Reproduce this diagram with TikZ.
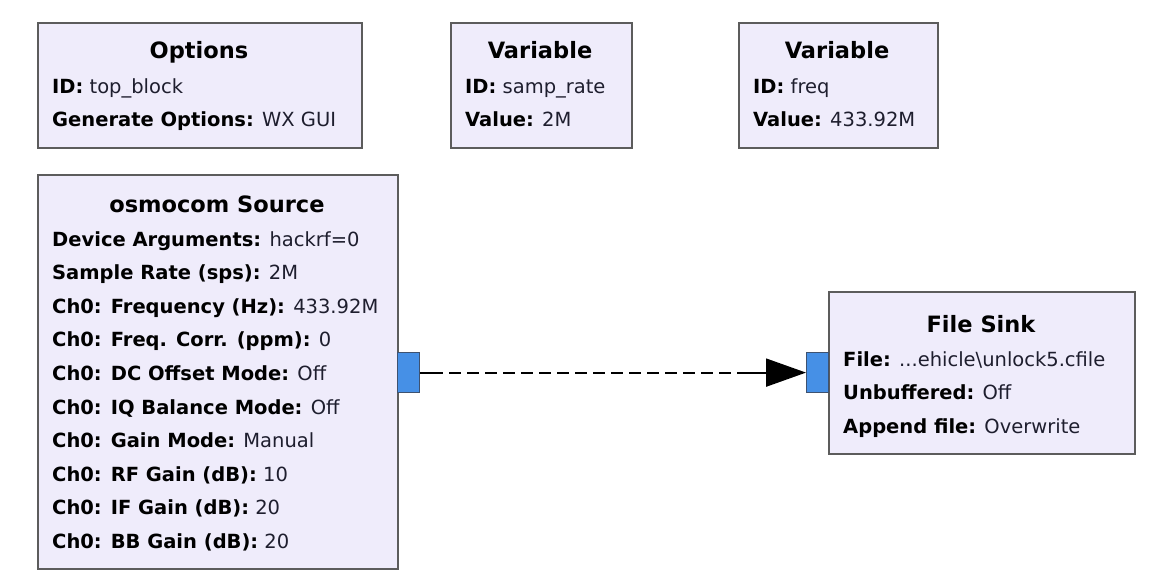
\documentclass[tikz,border=0pt]{standalone}
\usepackage{fontspec}
\setmainfont{DejaVu Sans}
\usetikzlibrary{arrows.meta}
\definecolor{blockfill}{HTML}{EFECFB}
\definecolor{blockedge}{HTML}{5C5C5C}
\definecolor{portfill}{HTML}{4690E6}
\definecolor{portedge}{HTML}{3E5270}
\definecolor{valtext}{HTML}{1E1E2E}

\begin{document}
\begin{tikzpicture}[x=1pt,y=-1pt,
  block/.style n args={2}{draw=blockedge,fill=blockfill,line width=1.6pt,rectangle,anchor=north west,inner sep=0pt,minimum width=#1pt,minimum height=#2pt},
  port/.style={draw=portedge,fill=portfill,line width=1.2pt,rectangle,anchor=north west,inner sep=0pt,minimum width=22pt,minimum height=40pt},
  title/.style={anchor=base,inner sep=0pt,font=\bfseries\fontsize{22.5}{26}\selectfont},
  param/.style={anchor=base west,inner sep=0pt,text=valtext,font=\fontsize{19.5}{24}\selectfont},
  wire/.style={draw=black,line width=2pt}]
  \useasboundingbox (0,0) rectangle (1162,573);
  % blocks
  \node[block={324}{125}] (opts) at (37,22) {};
  \node[block={181}{125}] (samprate) at (450,22) {};
  \node[block={199}{125}] (freq) at (738,22) {};
  \node[block={360}{394}] (src) at (37,174) {};
  \node[block={306}{162}] (sink) at (828,291) {};
  % ports
  \node[port] (srcout) at (397,352) {};
  \node[port] (sinkin) at (806,352) {};
  % titles
  \node[title] (optstitle) at (199,58) {Options};
  \node[title] (sampratetitle) at (540,58) {Variable};
  \node[title] (freqtitle) at (837,58) {Variable};
  \node[title] (srctitle) at (217,212) {osmocom Source};
  \node[title] (sinktitle) at (981,332) {File Sink};
  % parameters
  \node[param] at (52,93) {\textbf{\color{black}ID:} top\_block};
  \node[param] at (52,126) {\textbf{\color{black}Generate Options:} WX GUI};
  \node[param] at (465,93) {\textbf{\color{black}ID:} samp\_rate};
  \node[param] at (465,126) {\textbf{\color{black}Value:} 2M};
  \node[param] at (753,93) {\textbf{\color{black}ID:} freq};
  \node[param] at (753,126) {\textbf{\color{black}Value:} 433.92M};
  \foreach \k/\v [count=\i from 0] in {Device Arguments/hackrf=0,
      Sample Rate (sps)/2M,
      Ch0: Frequency (Hz)/433.92M,
      Ch0: Freq. Corr. (ppm)/0,
      Ch0: DC Offset Mode/Off,
      Ch0: IQ Balance Mode/Off,
      Ch0: Gain Mode/Manual,
      Ch0: RF Gain (dB)/10,
      Ch0: IF Gain (dB)/20,
      Ch0: BB Gain (dB)/20}
    \node[param] at (52,246+33.6*\i) {\textbf{\color{black}\k:} \v};
  \node[param] at (843,366) {\textbf{\color{black}File:} ...ehicle\textbackslash unlock5.cfile};
  \node[param] at (843,399.5) {\textbf{\color{black}Unbuffered:} Off};
  \node[param] at (843,433) {\textbf{\color{black}Append file:} Overwrite};
  % connection
  \coordinate (wirestart) at ([xshift=20pt]srcout.east);
  \coordinate (wireend) at ([xshift=-68pt]sinkin.west);
  \draw[wire] (srcout.east) -- (wirestart);
  \draw[wire,dash pattern=on 12pt off 6pt,dash phase=-9pt] (wirestart) -- (wireend);
  \draw[wire,-{Triangle[length=40pt,width=28pt]}] (wireend) -- (sinkin.west);
\end{tikzpicture}
\end{document}
